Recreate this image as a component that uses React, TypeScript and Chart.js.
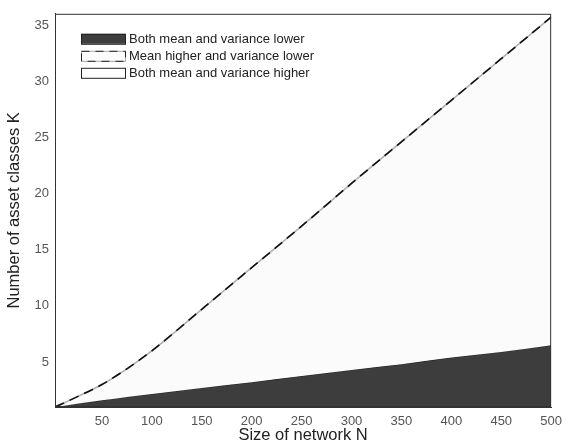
import React, { useEffect, useRef } from "react";
import { Chart, registerables } from "chart.js";

Chart.register(...registerables);

// Size of network N
const networkN = [3, 25, 50, 75, 100, 150, 200, 250, 300, 350, 400, 450, 500];
// Boundary: both mean and variance lower (below this)
const lowerK = [1, 1.3, 1.6, 1.9, 2.15, 2.7, 3.2, 3.75, 4.3, 4.8, 5.4, 5.9, 6.5];
// Boundary: mean higher and variance lower (below this, above lowerK)
const upperK = [1, 1.9, 3.0, 4.4, 6.0, 9.7, 13.4, 17.1, 20.9, 24.6, 28.3, 32.0, 35.7];

const xTicks = [50, 100, 150, 200, 250, 300, 350, 400, 450, 500];
const yTicks = [5, 10, 15, 20, 25, 30, 35];
const legendLabels = [
  "Both mean and variance lower",
  "Mean higher and variance lower",
  "Both mean and variance higher",
];

const FONT = "'Liberation Sans', Arial, sans-serif";

export default function App() {
  const ref = useRef<HTMLCanvasElement | null>(null);

  useEffect(() => {
    if (!ref.current) return;
    const lowerPts = networkN.map((n, i) => ({ x: n, y: lowerK[i] }));
    const upperPts = networkN.map((n, i) => ({ x: n, y: upperK[i] }));

    const framePlugin = {
      id: "frame",
      afterDatasetsDraw(chart: any) {
        const { ctx, chartArea: a } = chart;
        ctx.save();
        ctx.strokeStyle = "#333";
        ctx.lineWidth = 1;
        ctx.strokeRect(a.left + 0.5, a.top + 0.5, a.right - a.left - 1, a.bottom - a.top - 1);
        ctx.restore();
      },
    };

    const legendPlugin = {
      id: "boxLegend",
      afterDraw(chart: any) {
        const { ctx, chartArea: a } = chart;
        const bx = a.left + 26;
        const bw = 44;
        const bh = 10;
        const rowH = 17;
        const top0 = a.top + 20;
        ctx.save();
        ctx.font = `13px ${FONT}`;
        ctx.textBaseline = "middle";
        legendLabels.forEach((lab, i) => {
          const y = top0 + i * rowH;
          if (i === 0) {
            ctx.fillStyle = "#3d3d3d";
            ctx.fillRect(bx, y, bw, bh);
            ctx.strokeStyle = "#222";
            ctx.lineWidth = 1;
            ctx.strokeRect(bx + 0.5, y + 0.5, bw, bh);
          } else if (i === 1) {
            ctx.fillStyle = "#fcfcfc";
            ctx.fillRect(bx, y, bw, bh);
            ctx.strokeStyle = "#aaa";
            ctx.lineWidth = 1;
            ctx.strokeRect(bx + 0.5, y + 0.5, bw, bh);
            ctx.strokeStyle = "#222";
            ctx.setLineDash([8, 6]);
            ctx.strokeRect(bx + 0.5, y + 0.5, bw, bh);
            ctx.setLineDash([]);
          } else {
            ctx.fillStyle = "#fff";
            ctx.fillRect(bx, y, bw, bh);
            ctx.strokeStyle = "#222";
            ctx.lineWidth = 1;
            ctx.strokeRect(bx + 0.5, y + 0.5, bw, bh);
          }
          ctx.fillStyle = "#222";
          ctx.fillText(lab, bx + bw + 4, y + bh / 2 + 1);
        });
        ctx.restore();
      },
    };

    const chart = new Chart(ref.current, {
      type: "scatter",
      data: {
        datasets: [
          {
            data: lowerPts,
            showLine: true,
            pointRadius: 0,
            borderColor: "#222",
            borderWidth: 1,
            backgroundColor: "#3d3d3d",
            fill: "start",
            cubicInterpolationMode: "monotone",
            order: 2,
          },
          {
            data: upperPts,
            showLine: true,
            pointRadius: 0,
            borderColor: "#b0b0b0",
            borderWidth: 1.6,
            backgroundColor: "#fbfbfb",
            fill: "-1",
            cubicInterpolationMode: "monotone",
            order: 1,
          },
          {
            data: upperPts,
            showLine: true,
            pointRadius: 0,
            borderColor: "#111",
            borderWidth: 1.6,
            borderDash: [10, 6],
            fill: false,
            cubicInterpolationMode: "monotone",
            order: 0,
          },
        ],
      },
      options: {
        responsive: false,
        animation: false,
        layout: { padding: { top: 12, right: 12, left: 2, bottom: 0 } },
        plugins: {
          legend: { display: false },
          tooltip: { enabled: false },
        },
        scales: {
          x: {
            type: "linear",
            min: 3,
            max: 500,
            grid: { display: false, drawTicks: false },
            border: { display: true, color: "#333" },
            afterBuildTicks: (s: any) => {
              s.ticks = xTicks.map((v) => ({ value: v }));
            },
            afterFit: (s: any) => {
              s.height = 41;
            },
            ticks: {
              color: "#555",
              font: { family: FONT, size: 13 },
              padding: 7,
              maxRotation: 0,
              autoSkip: false,
            },
            title: {
              display: true,
              text: "Size of network N",
              color: "#222",
              font: { family: FONT, size: 16.5 },
              padding: { top: 2, bottom: 3 },
            },
          },
          y: {
            type: "linear",
            min: 1,
            max: 36,
            grid: { display: false, drawTicks: false },
            border: { display: true, color: "#333" },
            afterBuildTicks: (s: any) => {
              s.ticks = yTicks.map((v) => ({ value: v }));
            },
            afterFit: (s: any) => {
              s.width = 53;
            },
            ticks: {
              color: "#555",
              font: { family: FONT, size: 13 },
              padding: 6,
              autoSkip: false,
            },
            title: {
              display: true,
              text: "Number of asset classes K",
              color: "#222",
              font: { family: FONT, size: 16.5 },
              padding: { top: 3, bottom: 4 },
            },
          },
        },
      },
      plugins: [framePlugin, legendPlugin],
    });
    return () => chart.destroy();
  }, []);

  return (
    <div style={{ position: "absolute", left: 0, top: 0, width: 569, height: 448, background: "#fff" }}>
      <canvas ref={ref} width={569} height={448} />
    </div>
  );
}
